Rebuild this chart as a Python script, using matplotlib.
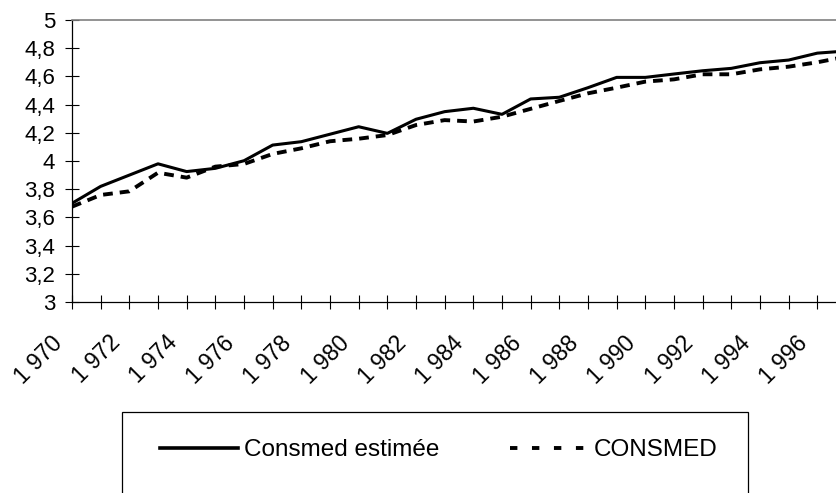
"""Consmed estimée vs CONSMED, 1970-1997."""
import numpy as np
import matplotlib
matplotlib.use("Agg")
import matplotlib.pyplot as plt
from matplotlib.lines import Line2D
from matplotlib.patches import Rectangle
from matplotlib.transforms import ScaledTranslation

plt.rcParams['font.family'] = ['Liberation Sans', 'DejaVu Sans']

# données annuelles
years = list(range(1970, 1998))
consmed_estimee = [3.70, 3.82, 3.90, 3.98, 3.925, 3.948, 4.002, 4.113, 4.137, 4.19,
                   4.243, 4.196, 4.296, 4.35, 4.374, 4.331, 4.44, 4.452, 4.52, 4.593,
                   4.593, 4.617, 4.64, 4.657, 4.697, 4.716, 4.765, 4.78]
consmed = [3.676, 3.759, 3.785, 3.917, 3.882, 3.96, 3.979, 4.05, 4.09, 4.14,
           4.158, 4.184, 4.255, 4.29, 4.28, 4.314, 4.37, 4.426, 4.48, 4.52,
           4.563, 4.579, 4.615, 4.615, 4.65, 4.669, 4.70, 4.74]
ytick_vals = [3, 3.2, 3.4, 3.6, 3.8, 4, 4.2, 4.4, 4.6, 4.8, 5]
ytick_labels = ["3", "3,2", "3,4", "3,6", "3,8", "4", "4,2", "4,4", "4,6", "4,8", "5"]
xtick_labels = ["1 970", "1 972", "1 974", "1 976", "1 978", "1 980", "1 982",
                "1 984", "1 986", "1 988", "1 990", "1 992", "1 994", "1 996"]

W, H = 836, 493
fig = plt.figure(figsize=(W / 100, H / 100), dpi=100)
ax = fig.add_axes([72 / W, 1 - 302 / H, (W - 72) / W, (302 - 20) / H])

ax.plot(years, consmed_estimee, color="black", lw=2.2, solid_joinstyle="round")
ax.plot(years, consmed, color="black", lw=2.8, linestyle=(0, (2.5, 1.8)),
        dash_capstyle="butt")

ax.set_xlim(1970, 1970 + (W - 72.7) / 28.64)
ax.set_ylim(3, 5)

ax.set_yticks(ytick_vals)
ax.set_yticklabels(ytick_labels)
ax.set_xticks(np.arange(1970, 1997, 1))
major_labels = []
i = 0
for y in range(1970, 1997):
    if (y - 1970) % 2 == 0:
        major_labels.append(xtick_labels[i])
        i += 1
    else:
        major_labels.append("")
ax.set_xticklabels(major_labels, rotation=45, ha="right", va="center",
                   rotation_mode="anchor")

ax.tick_params(axis="both", direction="inout", length=10, width=0.8,
               colors="black")
ax.tick_params(axis="y", pad=7, labelsize=16)
ax.tick_params(axis="x", pad=22, labelsize=16.5)
shift = ScaledTranslation(-0.13, 0, fig.dpi_scale_trans)
for lbl in ax.get_xticklabels():
    lbl.set_transform(lbl.get_transform() + shift)

ax.spines["right"].set_visible(False)
ax.spines["top"].set_color("#808080")
ax.spines["top"].set_linewidth(1.2)
for s in ("left", "bottom"):
    ax.spines[s].set_linewidth(0.9)
    ax.spines[s].set_color("black")

# légende
h1 = Line2D([], [], color="black", lw=2.6)
h2 = Line2D([], [], color="black", lw=2.8, linestyle=(0, (1.9, 3.75)))
fig.legend([h1, h2], ["Consmed estimée", "CONSMED"], loc="center left",
           bbox_to_anchor=(160 / W, 1 - 450 / H), ncol=2, frameon=False,
           borderpad=0, borderaxespad=0, handlelength=3.2, handletextpad=0.25,
           columnspacing=2.9, fontsize=17.5)
fig.patches.append(Rectangle((122 / W, -0.1), (748 - 122) / W, (H - 412) / H + 0.1,
                             transform=fig.transFigure, fill=False,
                             edgecolor="black", lw=0.9))

fig.savefig("out.png", dpi=100)
